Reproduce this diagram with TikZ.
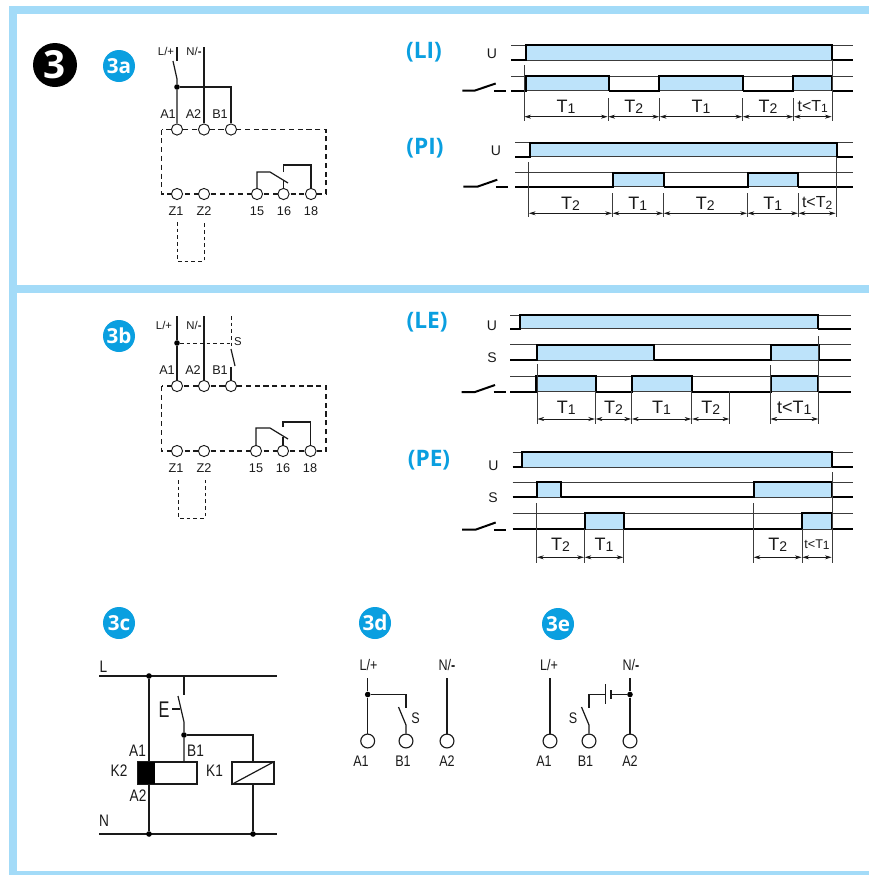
\documentclass[tikz,border=0pt]{standalone}
\usepackage{graphicx}
\usepackage{fontspec}
\setmainfont{Liberation Sans}
\newfontfamily\badgefont{Open Sans}
\usetikzlibrary{arrows.meta}
\definecolor{framec}{HTML}{A3DBF8}
\definecolor{fillc}{HTML}{BDE3FA}
\definecolor{badgec}{HTML}{0A9FE0}
\definecolor{linec}{HTML}{1A1A1A}
\newcounter{nn}
\newcommand\fs[1]{\fontsize{#1}{#1}\selectfont}
\newcommand\nw[1]{\scalebox{.82}[1]{#1}}
\newcommand\Lb[4][9.5]{\stepcounter{nn}\node[txt,font=\fs{#1}] (lb\thenn) at (#2,#3) {#4};}
\newcommand\Nm{N/\textbf{-}}
\newcommand\Tt[1]{T{\raisebox{-.8pt}{\fs{10.5}#1}}}
\newcommand\Ts[1]{T{\raisebox{-.8pt}{\fs{9}#1}}}
\newcommand\Badge[3]{\node[badge] (b#3) at (#1,#2) {#3};}
\newcommand\Row[5]{% top bot xl xr pulses
  \draw[thinl] (#3,#1) -- (#4,#1);
  \def\prevx{#3}
  \foreach \a/\b in {#5}{
    \fill[fillc] (\a,#1) rectangle (\b,#2);
    \draw[thinl] (\a,#2) -- (\b,#2);
    \draw[thickl] (\prevx,#2) -- (\a,#2) -- (\a,#1) -- (\b,#1) -- (\b,#2);
    \xdef\prevx{\b}
  }
  \draw[thickl] (\prevx,#2) -- (#4,#2);
}
\newcommand\VL[3]{\draw[thinl] (#1,#2) -- (#1,#3);}
\newcommand\Sp[6][13.5]{% x1 x2 yarrow ylabel label
  \coordinate (sa) at (#2,#4); \coordinate (sb) at (#3,#4);
  \draw[dim] (sa) -- (sb);
  \stepcounter{nn}\node[txt,font=\fs{#1}] (lb\thenn) at ({(#2+#3)/2},#5) {#6};}
\newcommand\SwSym[4]{% x0 xm xe y
  \draw[thickl] (#1,#4) -- (#2,#4) -- (#3,#4-7);
  \draw[thickl] (#3-1.5,#4) -- (#3+10.5,#4);}
\newcommand\Head[3]{\stepcounter{nn}\node[txt,font=\bfseries\badgefont\fs{17},text=badgec] (lb\thenn) at (#1,#2) {#3};}
\tikzset{
  txt/.style={inner sep=0pt,outer sep=0pt,text=linec},
  wire/.style={line width=.9pt,draw=linec},
  dwire/.style={line width=.9pt,draw=linec,dash pattern=on 3.8pt off 2.8pt},
  ldash/.style={line width=.65pt,draw=linec,dash pattern=on 2.8pt off 2.2pt},
  thinl/.style={line width=.55pt,draw=linec!85},
  thickl/.style={line width=1.5pt,draw=black,line join=miter},
  dim/.style={line width=.5pt,draw=linec,{Stealth[length=5pt,width=3pt]}-{Stealth[length=5pt,width=3pt]},shorten >=.3pt,shorten <=.3pt},
  term/.style={circle,draw=linec,line width=.7pt,fill=white,minimum size=8.4pt,inner sep=0pt},
  termb/.style={circle,draw=linec,line width=.85pt,fill=white,minimum size=10.4pt,inner sep=0pt},
  dot/.style={circle,fill=black,minimum size=4.2pt,inner sep=0pt},
  badge/.style={circle,fill=badgec,text=white,minimum size=24pt,inner sep=0pt,font=\bfseries\badgefont\fs{15.5}},
}
\begin{document}
\begin{tikzpicture}[x=.75pt,y=-.75pt]
\useasboundingbox (0,0) rectangle (869,875);
\fill[white] (0,0) rectangle (869,875);
% frame
\fill[framec] (9,6) rectangle (869,14);
\fill[framec] (9,285) rectangle (869,293);
\fill[framec] (9,871) rectangle (869,875);
\fill[framec] (9,6) rectangle (17,875);
% main number
\node[circle,fill=black,text=white,minimum size=33pt,inner sep=0pt,font=\bfseries\badgefont\fs{29}] (num) at (55,65) {3};
\Badge{119}{66}{3a}
\Badge{119}{336}{3b}
\Badge{119}{623}{3c}
\Badge{375}{623}{3d}
\Badge{558}{624}{3e}

% ---------- 3a
\draw[dwire] (161.5,129.5) rectangle (326,194);
\node[term] (aA1) at (177,129.5) {};
\node[term] (aA2) at (204,129.5) {};
\node[term] (aB1) at (231,129.5) {};
\node[term] (aZ1) at (177,194) {};
\node[term] (aZ2) at (204,194) {};
\node[term] (a15) at (257,194) {};
\node[term] (a16) at (283.5,194) {};
\node[term] (a18) at (311,194) {};
\node[dot] (aJ) at (177,87) {};
\coordinate (aLt) at (177,47); \coordinate (aLb) at (177,61);
\coordinate (aSa) at (173,61); \coordinate (aSb) at (177,79);
\coordinate (aNt) at (204,47);
\draw[wire] (aLt) -- (aLb);
\draw[wire] (aSa) -- (aSb) -- (aJ) -- (aA1);
\draw[wire] (aNt) -- (aA2);
\draw[wire] (aJ) -| (aB1);
\draw[wire] (a15) |- (270,172) -- (288,183);
\draw[wire] (a16) -- (283.5,181);
\draw[wire] (283.5,172) |- (311,165) -- (a18);
\draw[ldash] (177,222) |- (204,261) -- (204,222);
\Lb[8.5]{166}{51}{L/+}
\Lb[8.5]{194}{51}{\Nm}
\Lb{168}{114}{A1}\Lb{193.5}{114}{A2}\Lb{220}{114}{B1}
\Lb{176}{211}{Z1}\Lb{204}{211}{Z2}\Lb{257}{211}{15}\Lb{284}{211}{16}\Lb{311}{211}{18}

% ---------- 3b
\draw[dwire] (161.5,386) rectangle (326,451);
\node[term] (bA1) at (177,386) {};
\node[term] (bA2) at (204,386) {};
\node[term] (bB1) at (231,386) {};
\node[term] (bZ1) at (177,451) {};
\node[term] (bZ2) at (204,451) {};
\node[term] (b15) at (256,451) {};
\node[term] (b16) at (283,451) {};
\node[term] (b18) at (310.5,451) {};
\node[dot] (bJ) at (177,343) {};
\coordinate (bLt) at (177,316); \coordinate (bNt) at (204,316); \coordinate (bSt) at (231,316);
\draw[wire] (bLt) -- (bJ) -- (bA1);
\draw[wire] (bNt) -- (bA2);
\draw[ldash] (bJ) -- (231,343);
\draw[ldash] (bSt) -- (231,349);
\draw[wire] (231,349) -- (235,366);
\draw[wire] (231,367) -- (bB1);
\draw[wire] (b15) |- (270,428) -- (288,439);
\draw[wire] (b16) -- (283,437);
\draw[wire] (283,427) |- (310.5,422) -- (b18);
\draw[ldash] (178,480) |- (205,518) -- (205,480);
\Lb[8.5]{164}{325}{L/+}
\Lb[8.5]{194}{325}{\Nm}
\Lb[8.5]{238}{342}{S}
\Lb{167}{370}{A1}\Lb{193}{370}{A2}\Lb{220}{370}{B1}
\Lb{176}{468}{Z1}\Lb{204}{468}{Z2}\Lb{256}{468}{15}\Lb{283}{468}{16}\Lb{310}{468}{18}

% ---------- 3c
\coordinate (cL0) at (99,676); \coordinate (cL1) at (277,676);
\coordinate (cN0) at (99,834); \coordinate (cN1) at (277,834);
\draw[wire] (cL0) -- (cL1);
\draw[wire] (cN0) -- (cN1);
\node[dot] (cJ1) at (149,676) {};
\node[dot] (cJ2) at (149,834) {};
\node[dot] (cJ3) at (184,735) {};
\node[dot] (cJ4) at (253,834) {};
\node[draw=linec,line width=.85pt,fill=white,minimum width=44.25pt,minimum height=16.5pt,inner sep=0pt] (K2) at (167.5,773) {};
\fill[black] (138,762) rectangle (155,784);
\node[draw=linec,line width=.85pt,fill=white,minimum width=31.5pt,minimum height=16.5pt,inner sep=0pt] (K1) at (253,773) {};
\draw[wire] (K1.south west) -- (K1.north east);
\draw[wire] (cJ1) -- (149,762);
\draw[wire] (149,784) -- (cJ2);
\draw[wire] (184,676) -- (184,695);
\draw[wire] (178,696) -- (184,722) -- (cJ3) -- (184,762);
\draw[wire] (172,709) -- (180,709);
\draw[wire] (cJ3) -| (K1.north);
\draw[wire] (K1.south) -- (cJ4);
\Lb[12.5]{103.5}{667}{\nw{L}}
\Lb[12.5]{104}{821}{\nw{N}}
\Lb[17]{164}{710}{\scalebox{.72}[1]{E}}
\Lb[12.5]{137.5}{751}{\nw{A1}}
\Lb[12.5]{195.5}{751}{\nw{B1}}
\Lb[12.5]{119}{771}{\nw{K2}}
\Lb[12.5]{214.5}{771}{\nw{K1}}
\Lb[12.5]{138}{796}{\nw{A2}}

% ---------- 3d
\node[termb] (dA1) at (367.7,741) {};
\node[termb] (dB1) at (406,741) {};
\node[termb] (dA2) at (447,741) {};
\node[dot] (dJ) at (367.7,694.5) {};
\coordinate (dLt) at (367.7,678); \coordinate (dNt) at (447,678);
\draw[wire] (dLt) -- (dJ) -- (dA1);
\draw[wire] (dJ) -| (406,708);
\draw[wire] (398.5,707) -- (406,725) -- (dB1);
\draw[wire] (dNt) -- (dA2);
\Lb[11.5]{368.5}{665}{\nw{L/+}}
\Lb[11.5]{447}{665}{\nw{\Nm}}
\Lb[11.5]{415.5}{718.5}{\nw{S}}
\Lb[11.5]{361}{761}{\nw{A1}}
\Lb[11.5]{403}{761}{\nw{B1}}
\Lb[11.5]{447}{761}{\nw{A2}}

% ---------- 3e
\node[termb] (eA1) at (550,741) {};
\node[termb] (eB1) at (589,741) {};
\node[termb] (eA2) at (630,741) {};
\node[dot] (eJ) at (630,694.5) {};
\coordinate (eLt) at (550,678); \coordinate (eNt) at (630,678);
\draw[wire] (eLt) -- (eA1);
\draw[wire] (eNt) -- (eJ) -- (eA2);
\draw[wire] (eJ) -- (611,694.5);
\draw[wire] (611,690) -- (611,699);
\draw[wire] (605.7,684) -- (605.7,704);
\draw[wire] (605.7,694.5) -| (589,708);
\draw[wire] (581.5,707) -- (589,725) -- (eB1);
\Lb[11.5]{549}{665}{\nw{L/+}}
\Lb[11.5]{631}{665}{\nw{\Nm}}
\Lb[11.5]{573}{718.5}{\nw{S}}
\Lb[11.5]{544}{761}{\nw{A1}}
\Lb[11.5]{585.5}{761}{\nw{B1}}
\Lb[11.5]{630}{761}{\nw{A2}}

% ---------- LI
\Head{424}{52}{(LI)}
\Lb[10.5]{492}{54}{U}
\Row{45}{60}{511}{853}{526/832}
\Row{76}{90.5}{511}{853}{525.5/608.5,659/742.5,793/832}
\SwSym{462.3}{475}{495.7}{90.5}
\VL{524}{65}{121}\VL{832}{60}{121}
\VL{608}{98}{121}\VL{659.5}{98}{121}\VL{742.5}{98}{121}\VL{793.5}{98}{121}
\Sp{524}{608}{116.7}{107}{\Tt1}
\Sp{608}{659.5}{116.7}{107}{\Tt2}
\Sp{659.5}{742.5}{116.7}{107}{\Tt1}
\Sp{742.5}{793.5}{116.7}{107}{\Tt2}
\Sp[12]{793.5}{832}{116.7}{106.5}{t<\Ts1}

% ---------- PI
\Head{425}{148}{(PI)}
\Lb[10.5]{496}{151}{U}
\Row{142.5}{156.7}{515}{852.5}{530/836.7}
\Row{172.7}{186.5}{515}{852.5}{613.3/663.7,748/798}
\SwSym{463.3}{477.3}{497.3}{186.7}
\VL{528.5}{162}{217}\VL{836}{157}{217}
\VL{612.3}{193}{217}\VL{663.3}{193}{217}\VL{747.3}{193}{217}\VL{798.3}{193}{217}
\Sp{528.5}{612.3}{213.3}{203.5}{\Tt2}
\Sp{612.3}{663.3}{213.3}{203.5}{\Tt1}
\Sp{663.3}{747.3}{213.3}{203.5}{\Tt2}
\Sp{747.3}{798.3}{213.3}{203.5}{\Tt1}
\Sp[12]{798.3}{836}{213.3}{203}{t<\Ts2}

% ---------- LE
\Head{427}{322}{(LE)}
\Lb[10.5]{492}{326}{U}
\Lb[10.5]{492}{358}{S}
\Row{315}{328.7}{510}{851}{520/817.7}
\Row{344.7}{360}{510}{851}{537.3/654,771.3/818.7}
\Row{376}{391.7}{510}{851}{536/595.7,632.3/691.7,770.7/818.3}
\SwSym{461.7}{475}{495}{392}
\VL{537}{364}{424}\VL{595.3}{391}{424}\VL{631.5}{391}{424}\VL{691.7}{391}{424}\VL{729.7}{391}{424}
\VL{770}{365}{424}\VL{818.7}{336}{424}
\Sp{537}{595.3}{419}{407.7}{\Tt1}
\Sp{595.3}{631.5}{419}{407.7}{\Tt2}
\Sp{631.5}{691.7}{419}{407.7}{\Tt1}
\Sp{691.7}{729.7}{419}{407.7}{\Tt2}
\Sp[13.5]{770}{818.7}{419}{407.7}{t<\Tt1}

% ---------- PE
\Head{429}{460}{(PE)}
\Lb[10.5]{493.5}{466}{U}
\Lb[10.5]{493}{498}{S}
\Row{452}{467.3}{512.7}{853}{522.3/831.7}
\Row{482}{497}{512.7}{853}{536.7/561,754.3/832}
\Row{513.3}{529.3}{512.7}{853}{585.3/623.7,801.7/832}
\SwSym{462}{476}{495.7}{529.5}
\VL{536.7}{503}{563}\VL{584.3}{529}{563}\VL{623.7}{529}{563}\VL{753.3}{503}{563}\VL{802}{529}{563}\VL{832}{472}{563}
\Sp{536.7}{584.3}{557.3}{545}{\Tt2}
\Sp{584.3}{623.7}{557.3}{545}{\Tt1}
\Sp{753.3}{802}{557.3}{545}{\Tt2}
\Sp[9.5]{802}{832}{557.3}{544.5}{t<\Ts1}
\end{tikzpicture}
\end{document}
